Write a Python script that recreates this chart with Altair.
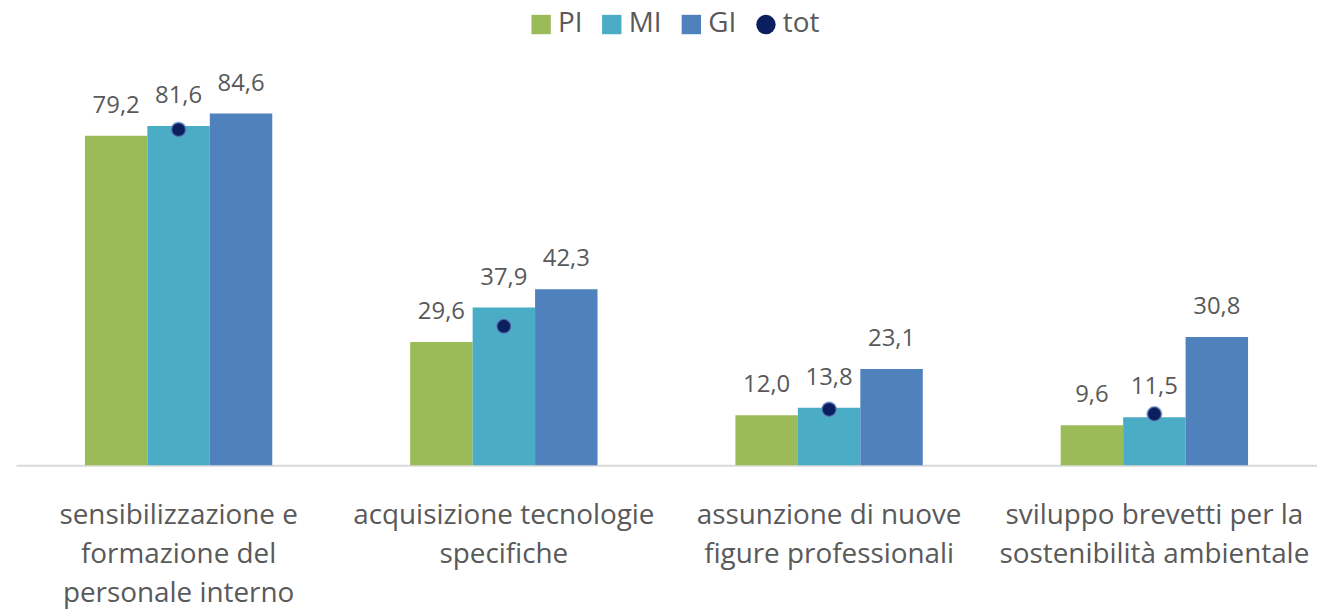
import altair as alt
import pandas as pd

categories = [
    "sensibilizzazione e|formazione del|personale interno",
    "acquisizione tecnologie|specifiche",
    "assunzione di nuove|figure professionali",
    "sviluppo brevetti per la|sostenibilità ambientale",
]
series = ["PI", "MI", "GI"]
pi_values = [79.2, 29.6, 12.0, 9.6]
mi_values = [81.6, 37.9, 13.8, 11.5]
gi_values = [84.6, 42.3, 23.1, 30.8]
tot_values = [80.7, 33.4, 13.4, 12.3]

legend_keys = ["PI", "MI", "GI", "tot"]
colors = ["#9BBB59", "#4BACC6", "#4F81BD", "#0B1F5E"]
shapes = ["square", "square", "square", "circle"]
FONT = "Open Sans"
TXT = "#595959"

rows = []
for i, c in enumerate(categories):
    for s, vals in zip(series, [pi_values, mi_values, gi_values]):
        rows.append({"cat": c, "series": s, "value": vals[i]})
bars_df = pd.DataFrame(rows)
tot_df = pd.DataFrame({"cat": categories, "pos": ["MI"] * 4, "series": ["tot"] * 4, "value": tot_values})

x_enc = alt.X(
    "cat:N",
    sort=categories,
    scale=alt.Scale(paddingInner=0.424, paddingOuter=0.212),
    axis=alt.Axis(
        title=None,
        labelExpr="split(datum.label, '|')",
        labelAngle=0,
        labelFont=FONT,
        labelFontSize=28,
        labelColor=TXT,
        labelLineHeight=39,
        labelPadding=37,
        labelBaseline="top",
        labelLimit=0,
        labelOverlap=False,
        ticks=False,
        domainColor="#D9D9D9",
        domainWidth=2,
        grid=False,
    ),
)
y_scale = alt.Scale(domain=[0, 100], nice=False)
color_scale = alt.Scale(domain=legend_keys, range=colors)
shape_scale = alt.Scale(domain=legend_keys, range=shapes)
xoff_scale = alt.Scale(domain=series, paddingInner=0, paddingOuter=0)

legend = alt.Legend(
    title=None,
    orient="none",
    direction="horizontal",
    legendX=514,
    legendY=-39,
    labelFont=FONT,
    labelFontSize=28,
    labelColor=TXT,
    labelLimit=0,
    symbolSize=380,
    symbolStrokeWidth=0,
    symbolOpacity=1,
    labelOffset=3,
    columnPadding=15,
)

bars = alt.Chart(bars_df).mark_bar().encode(
    x=x_enc,
    xOffset=alt.XOffset("series:N", sort=series, scale=xoff_scale),
    y=alt.Y("value:Q", scale=y_scale, axis=None),
    color=alt.Color("series:N", scale=color_scale, legend=legend),
)

labels = alt.Chart(bars_df).transform_calculate(
    txt="replace(format(datum.value, '.1f'), '.', ',')"
).mark_text(
    font=FONT, fontSize=24, color=TXT, baseline="alphabetic", dy=-23
).encode(
    x=alt.X("cat:N", sort=categories),
    xOffset=alt.XOffset("series:N", sort=series, scale=xoff_scale),
    y=alt.Y("value:Q", scale=y_scale),
    text="txt:N",
)

dots = alt.Chart(tot_df).mark_point(
    filled=True, size=210, opacity=1, stroke="#6F8FCF", strokeWidth=2, strokeOpacity=0.55
).encode(
    x=alt.X("cat:N", sort=categories),
    xOffset=alt.XOffset("pos:N", scale=xoff_scale),
    y=alt.Y("value:Q", scale=y_scale),
    color=alt.Color("series:N", scale=color_scale, legend=legend),
    shape=alt.Shape("series:N", scale=shape_scale, legend=legend),
)

chart = alt.layer(bars, labels, dots).properties(
    width=1308,
    height=418,
    background="white",
    autosize=alt.AutoSizeParams(type="none"),
    padding={"left": 8, "top": 40, "right": 0, "bottom": 145},
).configure_view(stroke=None)

chart.save("out.html", embed_options={"renderer": "svg", "actions": False})
